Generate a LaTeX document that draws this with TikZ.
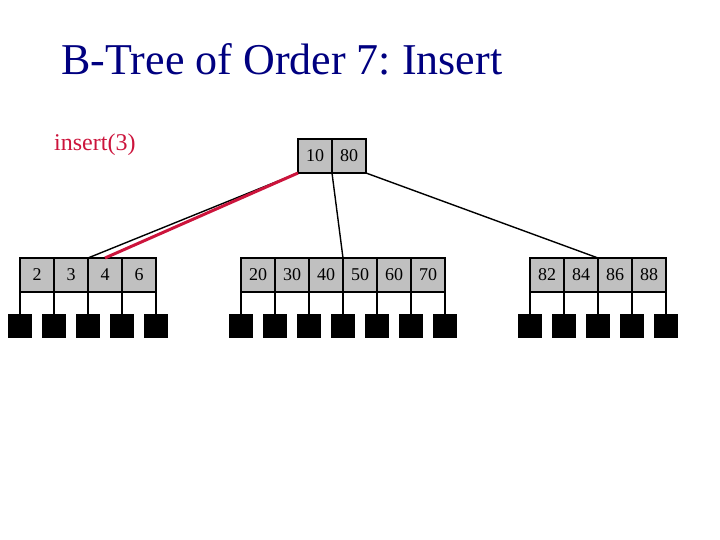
\documentclass[tikz,border=0pt]{standalone}
\usepackage{fontspec}
\setmainfont{Liberation Serif}
\usepackage{xcolor}
\usepackage{tikz}
\usetikzlibrary{positioning}
\frenchspacing

\definecolor{titleblue}{RGB}{0,0,128}
\definecolor{hotred}{RGB}{204,20,60}
\definecolor{cellgray}{RGB}{192,192,192}

\begin{document}
\begin{tikzpicture}
  [
    x=1pt, y=-1pt,
    cell/.style={draw=black, fill=cellgray, line width=1.2pt,
      minimum width=34pt, minimum height=34pt, inner sep=0pt,
      outer sep=0pt, font=\fontsize{18}{18}\selectfont},
    ptr/.style={fill=black, minimum width=24pt, minimum height=24pt,
      inner sep=0pt, outer sep=0pt},
    stub/.style={draw=black, line width=1.2pt},
    link/.style={draw=black, line width=1.4pt},
    hot/.style={draw=hotred, line width=3pt}
  ]

  \useasboundingbox (0,0) rectangle (720,540);

  \node (title) [anchor=base, text=titleblue, font=\fontsize{44}{44}\selectfont]
    at (282,75) {B-Tree of Order 7: Insert};
  \node (op) [anchor=base west, inner sep=0pt, text=hotred,
    font=\fontsize{24}{24}\selectfont] at (54,151) {insert(3)};

  % root
  \node (r1) at (315,156) [cell] {10};
  \node (r2) at (349,156) [cell] {80};

  % leaf 1
  \node (a1) at ( 37,275) [cell] {2};
  \node (a2) at ( 71,275) [cell] {3};
  \node (a3) at (105,275) [cell] {4};
  \node (a4) at (139,275) [cell] {6};

  % leaf 2
  \node (b1) at (258,275) [cell] {20};
  \node (b2) at (292,275) [cell] {30};
  \node (b3) at (326,275) [cell] {40};
  \node (b4) at (360,275) [cell] {50};
  \node (b5) at (394,275) [cell] {60};
  \node (b6) at (428,275) [cell] {70};

  % leaf 3
  \node (c1) at (547,275) [cell] {82};
  \node (c2) at (581,275) [cell] {84};
  \node (c3) at (615,275) [cell] {86};
  \node (c4) at (649,275) [cell] {88};

  % child pointers
  \node (pa0) [ptr, below=22pt of a1.south west] {};
  \node (pa1) [ptr, below=22pt of a1.south east] {};
  \node (pa2) [ptr, below=22pt of a2.south east] {};
  \node (pa3) [ptr, below=22pt of a3.south east] {};
  \node (pa4) [ptr, below=22pt of a4.south east] {};

  \node (pb0) [ptr, below=22pt of b1.south west] {};
  \node (pb1) [ptr, below=22pt of b1.south east] {};
  \node (pb2) [ptr, below=22pt of b2.south east] {};
  \node (pb3) [ptr, below=22pt of b3.south east] {};
  \node (pb4) [ptr, below=22pt of b4.south east] {};
  \node (pb5) [ptr, below=22pt of b5.south east] {};
  \node (pb6) [ptr, below=22pt of b6.south east] {};

  \node (pc0) [ptr, below=22pt of c1.south west] {};
  \node (pc1) [ptr, below=22pt of c1.south east] {};
  \node (pc2) [ptr, below=22pt of c2.south east] {};
  \node (pc3) [ptr, below=22pt of c3.south east] {};
  \node (pc4) [ptr, below=22pt of c4.south east] {};

  \draw [stub] (a1.south west) -- (pa0.north);
  \draw [stub] (a1.south east) -- (pa1.north);
  \draw [stub] (a2.south east) -- (pa2.north);
  \draw [stub] (a3.south east) -- (pa3.north);
  \draw [stub] (a4.south east) -- (pa4.north);

  \draw [stub] (b1.south west) -- (pb0.north);
  \draw [stub] (b1.south east) -- (pb1.north);
  \draw [stub] (b2.south east) -- (pb2.north);
  \draw [stub] (b3.south east) -- (pb3.north);
  \draw [stub] (b4.south east) -- (pb4.north);
  \draw [stub] (b5.south east) -- (pb5.north);
  \draw [stub] (b6.south east) -- (pb6.north);

  \draw [stub] (c1.south west) -- (pc0.north);
  \draw [stub] (c1.south east) -- (pc1.north);
  \draw [stub] (c2.south east) -- (pc2.north);
  \draw [stub] (c3.south east) -- (pc3.north);
  \draw [stub] (c4.south east) -- (pc4.north);

  % root links
  \draw [link] (r1.south west) -- (a2.north east);
  \draw [link] (r1.south east) -- (b3.north east);
  \draw [link] (r2.south east) -- (c2.north east);
  \draw [hot]  (r1.south west) -- (a3.north);
\end{tikzpicture}
\end{document}
